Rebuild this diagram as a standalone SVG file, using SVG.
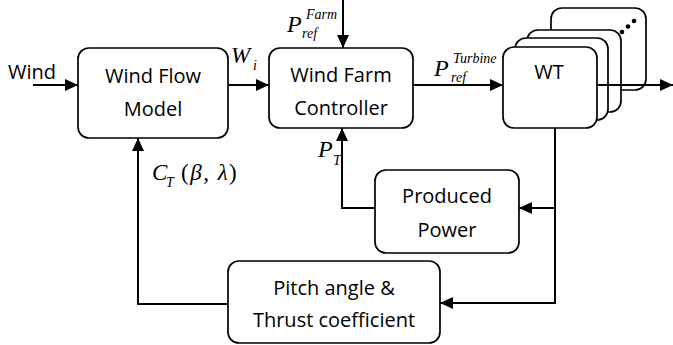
<svg xmlns="http://www.w3.org/2000/svg" width="673" height="345" viewBox="0 0 673 345">
<defs>
<style>
.box{fill:#fff;stroke:#000;stroke-width:1.7}
.lbl{font-family:"Open Sans","Liberation Sans",sans-serif;font-size:20px;fill:#000;text-anchor:middle}
.m{font-family:"Liberation Serif","Times New Roman",serif;font-style:italic;fill:#000}
.big{font-size:24px}
.sm{font-size:14px}
.conn{fill:none;stroke:#000;stroke-width:2}
</style>
<marker id="ah" markerUnits="userSpaceOnUse" markerWidth="13" markerHeight="12" refX="13" refY="6" orient="auto">
<path d="M0,0 L13,6 L0,12 z" fill="#000"/>
</marker>
</defs>
<rect width="673" height="345" fill="#fff"/>

<g id="wind-label"><text class="lbl" x="8" y="79" style="text-anchor:start">Wind</text></g>

<g id="wind-flow-model">
<rect class="box" x="78" y="48" width="150" height="90" rx="11"/>
<text class="lbl" x="153" y="83">Wind Flow</text>
<text class="lbl" x="153" y="116">Model</text>
</g>

<g id="wind-farm-controller">
<rect class="box" x="269" y="48" width="144" height="80" rx="11"/>
<text class="lbl" x="341" y="82">Wind Farm</text>
<text class="lbl" x="341" y="115">Controller</text>
</g>

<g id="wt-stack">
<rect class="box" x="551" y="8" width="95" height="82" rx="11"/>
<circle cx="622" cy="32" r="2.3" fill="#000"/>
<circle cx="628" cy="26.5" r="2.3" fill="#000"/>
<circle cx="634" cy="21" r="2.3" fill="#000"/>
<rect class="box" x="527" y="30" width="94" height="82" rx="11"/>
<rect class="box" x="515" y="38" width="93" height="82" rx="11"/>
<rect class="box" x="503" y="47" width="94" height="81" rx="11"/>
<text class="lbl" x="549" y="79">WT</text>
</g>

<g id="produced-power">
<rect class="box" x="375" y="170" width="144" height="83" rx="11"/>
<text class="lbl" x="447" y="203">Produced</text>
<text class="lbl" x="447" y="237">Power</text>
</g>

<g id="pitch-thrust">
<rect class="box" x="228" y="261" width="212" height="82" rx="11"/>
<text class="lbl" x="334" y="295">Pitch angle &amp;</text>
<text class="lbl" x="334" y="327">Thrust coefficient</text>
</g>

<g id="connectors">
<path class="conn" d="M33,85 H78" marker-end="url(#ah)"/>
<path class="conn" d="M228,85 H269" marker-end="url(#ah)"/>
<path class="conn" d="M343,0 V48" marker-end="url(#ah)"/>
<path class="conn" d="M413,85 H503" marker-end="url(#ah)"/>
<path class="conn" d="M597,85 H673" marker-end="url(#ah)"/>
<path class="conn" d="M555,128 V303 H440" marker-end="url(#ah)"/>
<path class="conn" d="M555,208 H519" marker-end="url(#ah)"/>
<path class="conn" d="M375,208 H342 V128" marker-end="url(#ah)"/>
<path class="conn" d="M228,304 H138 V138" marker-end="url(#ah)"/>
</g>

<g id="labels">
<text class="m" x="231" y="63" font-size="23">W</text>
<text class="m sm" x="253" y="70">i</text>
<text class="m big" x="287" y="32">P</text>
<text class="m sm" x="306" y="19">Farm</text>
<text class="m sm" x="302" y="38">ref</text>
<text class="m big" x="434" y="76">P</text>
<text class="m sm" x="453" y="63">Turbine</text>
<text class="m sm" x="451" y="82">ref</text>
<text class="m big" x="318" y="157">P</text>
<text class="m sm" x="333" y="165">T</text>
<text class="m" x="152" y="180" font-size="23">C</text>
<text class="m sm" x="166" y="187">T</text>
<text class="m" x="181" y="180" font-size="23" letter-spacing="1.5"><tspan font-style="normal">(</tspan>β, λ<tspan font-style="normal">)</tspan></text>
</g>
</svg>
